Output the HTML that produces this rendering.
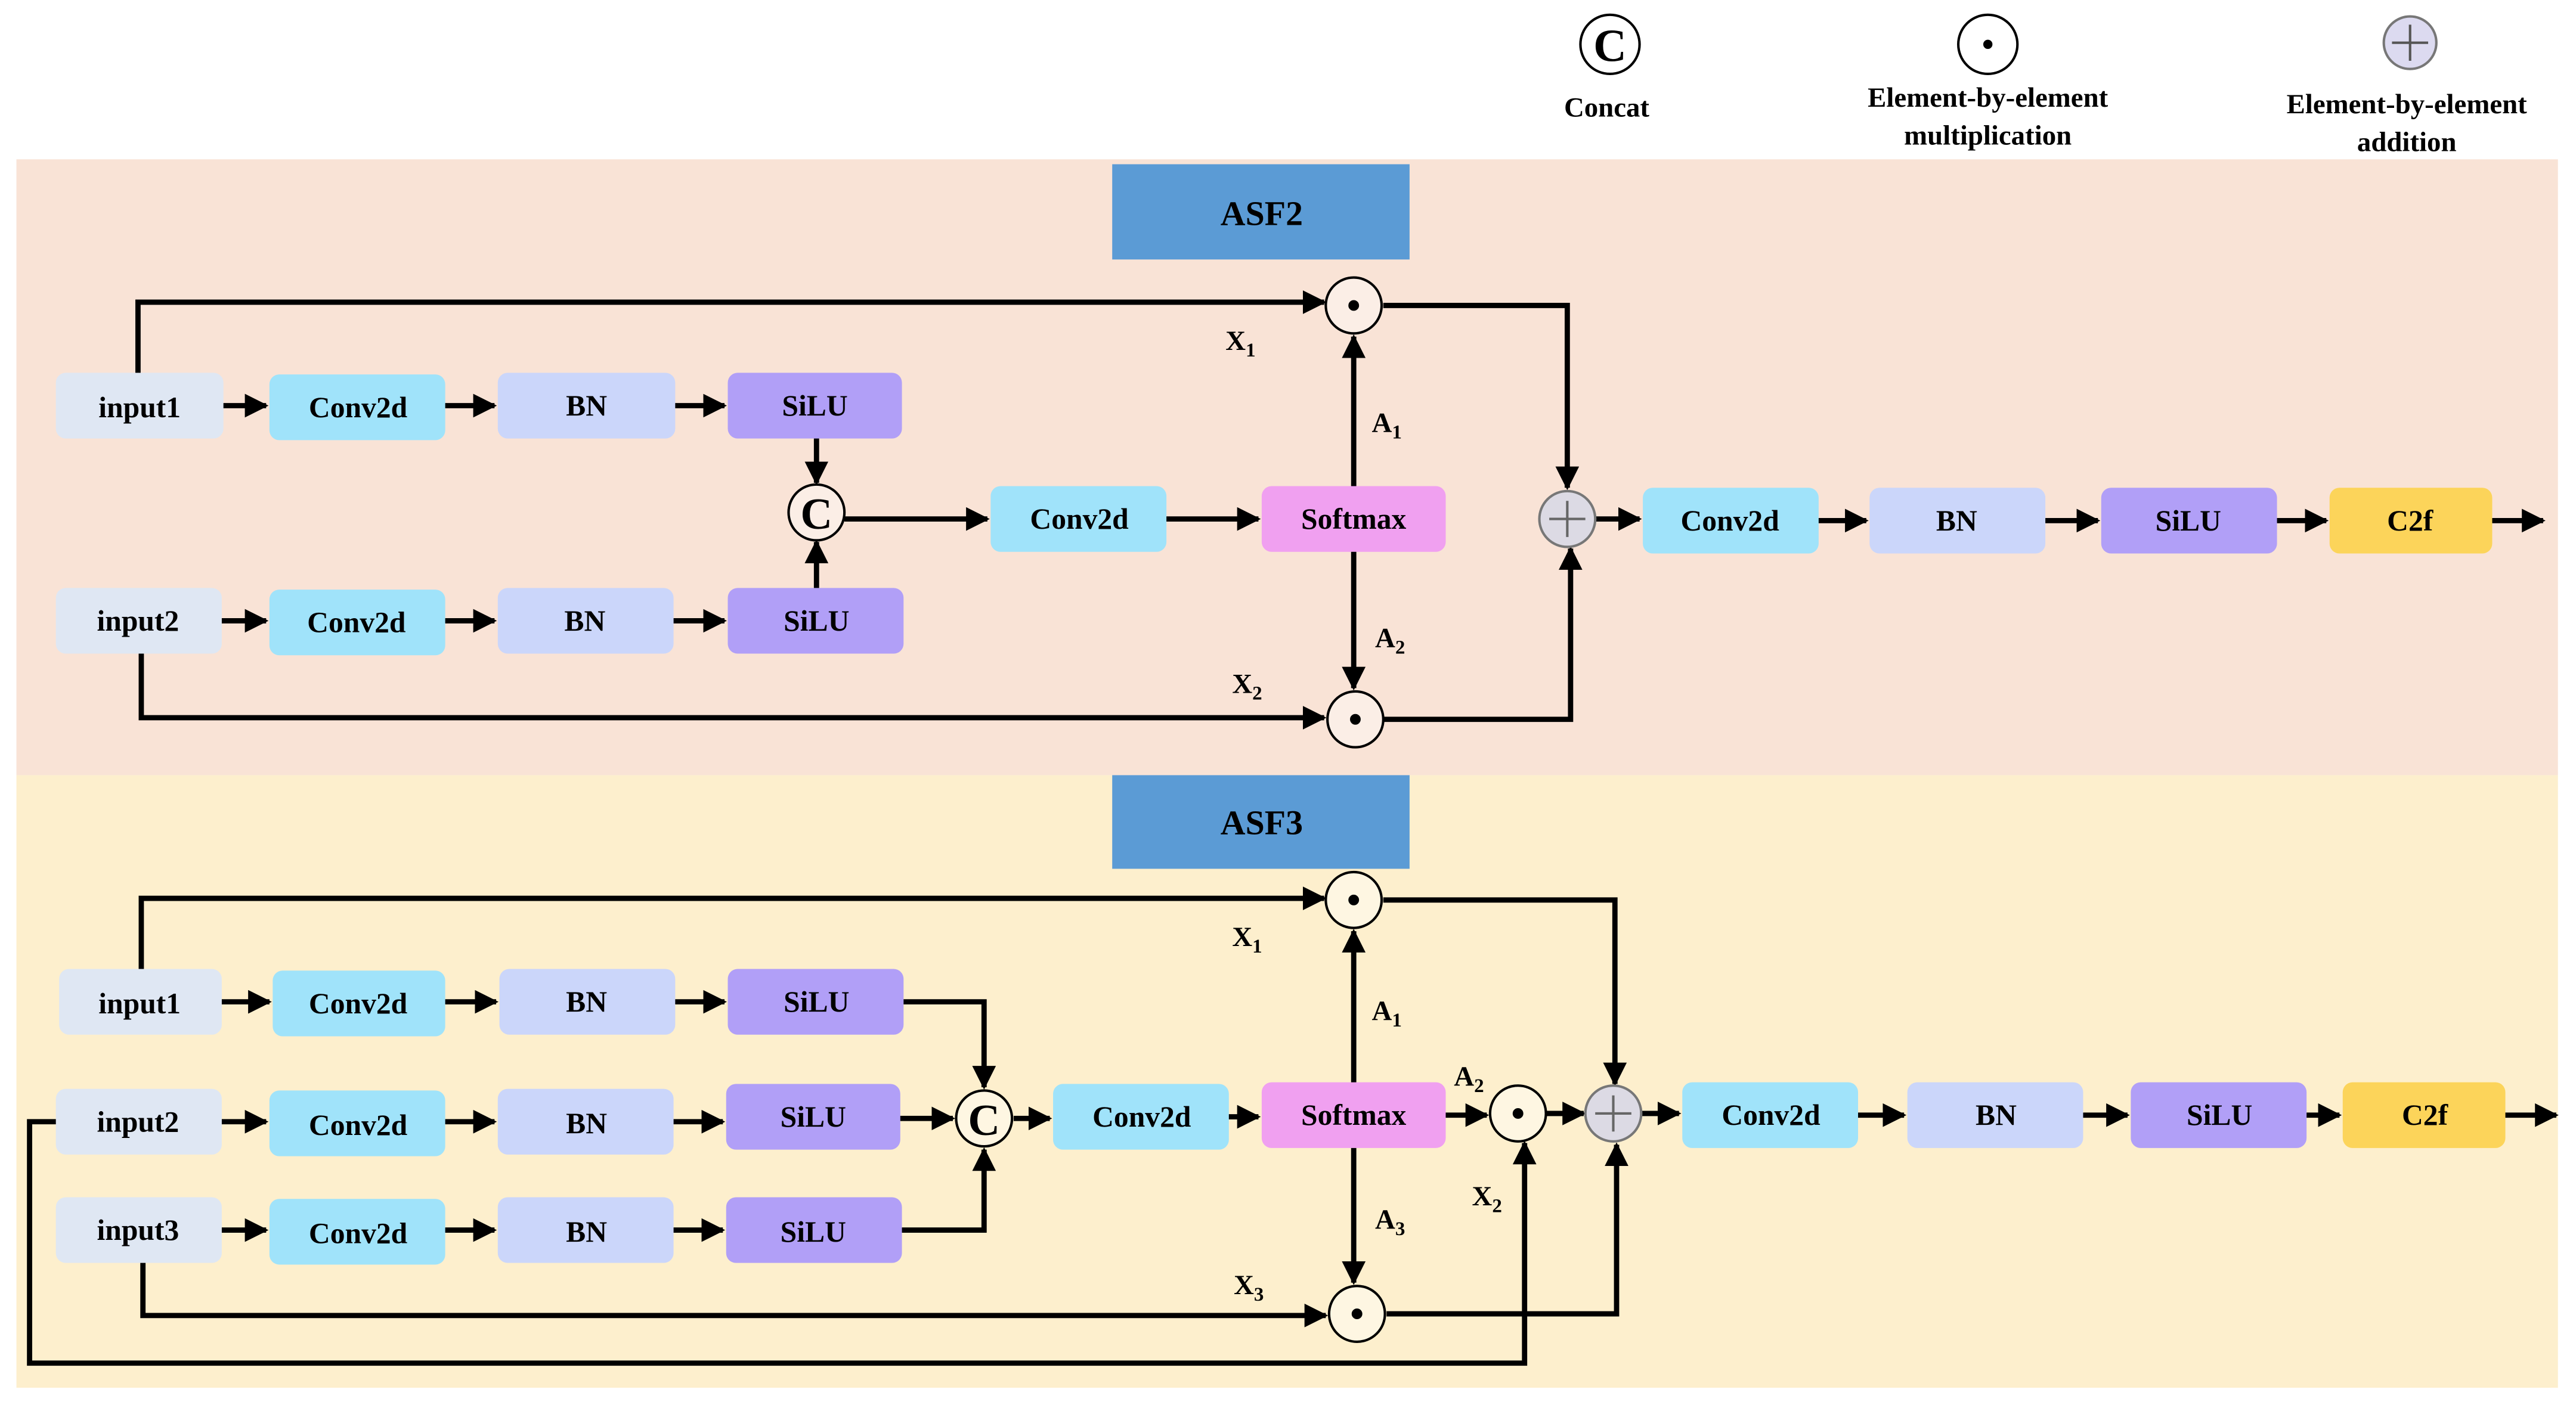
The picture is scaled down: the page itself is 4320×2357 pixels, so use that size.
<!DOCTYPE html>
<html><head><meta charset="utf-8"><style>
html,body{margin:0;padding:0;background:#fff;}
svg{display:block;}
svg text{font-family:"Liberation Serif","DejaVu Serif",serif;font-weight:bold;fill:#000;}
</style></head><body>
<svg width="4320" height="2357" viewBox="0 0 1568 855.5" preserveAspectRatio="none" xmlns="http://www.w3.org/2000/svg" font-family="Liberation Serif, serif" font-weight="bold">
<defs>
<marker id="ah" viewBox="0 0 10 10" refX="9" refY="5" markerWidth="4.5" markerHeight="4.5" orient="auto" markerUnits="strokeWidth">
<path d="M0,0 L10,5 L0,10 z" fill="#000"/></marker>
</defs>
<rect x="0" y="0" width="1568" height="856" fill="#fff"/>
<rect x="10" y="97" width="1547" height="375" fill="#f9e3d6"/>
<rect x="10" y="472" width="1547" height="373" fill="#fdefcd"/>

<g font-size="17" text-anchor="middle">
<circle cx="980" cy="27" r="18" fill="#fff" stroke="#000" stroke-width="1.5"/>
<text x="980" y="37" font-size="28">C</text>
<text x="978" y="71">Concat</text>
<circle cx="1210" cy="27" r="18" fill="#fff" stroke="#000" stroke-width="1.5"/>
<circle cx="1210" cy="27" r="2.8" fill="#000"/>
<text x="1210" y="65">Element-by-element</text>
<text x="1210" y="88">multiplication</text>
<circle cx="1467" cy="26" r="16" fill="#dcdaf0" stroke="#777" stroke-width="1.5"/>
<path d="M1456,26 H1478 M1467,15 V37" stroke="#555" stroke-width="1.5"/>
<text x="1465" y="69">Element-by-element</text>
<text x="1465" y="92">addition</text>
</g>

<rect x="677" y="100" width="181" height="58" fill="#5b9bd5"/>
<text x="768" y="137" font-size="21" text-anchor="middle">ASF2</text>
<rect x="677" y="472" width="181" height="57" fill="#5b9bd5"/>
<text x="768" y="508" font-size="21" text-anchor="middle">ASF3</text>

<g font-size="18" text-anchor="middle">
<rect x="34" y="227" width="102" height="40" rx="6" fill="#dfe7f3"/><text x="85" y="254">input1</text>
<rect x="164" y="228" width="107" height="40" rx="6" fill="#a0e3fa"/><text x="218" y="254">Conv2d</text>
<rect x="303" y="227" width="108" height="40" rx="6" fill="#cbd6fa"/><text x="357" y="253">BN</text>
<rect x="443" y="227" width="106" height="40" rx="6" fill="#b19ff7"/><text x="496" y="253">SiLU</text>
<rect x="34" y="358" width="101" height="40" rx="6" fill="#dfe7f3"/><text x="84" y="384">input2</text>
<rect x="164" y="359" width="107" height="40" rx="6" fill="#a0e3fa"/><text x="217" y="385">Conv2d</text>
<rect x="303" y="358" width="107" height="40" rx="6" fill="#cbd6fa"/><text x="356" y="384">BN</text>
<rect x="443" y="358" width="107" height="40" rx="6" fill="#b19ff7"/><text x="497" y="384">SiLU</text>
<rect x="603" y="296" width="107" height="40" rx="6" fill="#a0e3fa"/><text x="657" y="322">Conv2d</text>
<rect x="768" y="296" width="112" height="40" rx="6" fill="#f0a0f0"/><text x="824" y="322">Softmax</text>
<rect x="1000" y="297" width="107" height="40" rx="6" fill="#a0e3fa"/><text x="1053" y="323">Conv2d</text>
<rect x="1138" y="297" width="107" height="40" rx="6" fill="#cbd6fa"/><text x="1191" y="323">BN</text>
<rect x="1279" y="297" width="107" height="40" rx="6" fill="#b19ff7"/><text x="1332" y="323">SiLU</text>
<rect x="1418" y="297" width="99" height="40" rx="6" fill="#fcd45a"/><text x="1467" y="323">C2f</text>

<rect x="36" y="590" width="99" height="40" rx="6" fill="#dfe7f3"/><text x="85" y="617">input1</text>
<rect x="166" y="591" width="105" height="40" rx="6" fill="#a0e3fa"/><text x="218" y="617">Conv2d</text>
<rect x="304" y="590" width="107" height="40" rx="6" fill="#cbd6fa"/><text x="357" y="616">BN</text>
<rect x="443" y="590" width="107" height="40" rx="6" fill="#b19ff7"/><text x="497" y="616">SiLU</text>
<rect x="34" y="663" width="101" height="40" rx="6" fill="#dfe7f3"/><text x="84" y="689">input2</text>
<rect x="164" y="664" width="107" height="40" rx="6" fill="#a0e3fa"/><text x="218" y="691">Conv2d</text>
<rect x="303" y="663" width="107" height="40" rx="6" fill="#cbd6fa"/><text x="357" y="690">BN</text>
<rect x="442" y="660" width="106" height="40" rx="6" fill="#b19ff7"/><text x="495" y="686">SiLU</text>
<rect x="34" y="729" width="101" height="40" rx="6" fill="#dfe7f3"/><text x="84" y="755">input3</text>
<rect x="164" y="730" width="107" height="40" rx="6" fill="#a0e3fa"/><text x="218" y="757">Conv2d</text>
<rect x="303" y="729" width="107" height="40" rx="6" fill="#cbd6fa"/><text x="357" y="756">BN</text>
<rect x="442" y="729" width="107" height="40" rx="6" fill="#b19ff7"/><text x="495" y="756">SiLU</text>
<rect x="641" y="660" width="107" height="40" rx="6" fill="#a0e3fa"/><text x="695" y="686">Conv2d</text>
<rect x="768" y="659" width="112" height="40" rx="6" fill="#f0a0f0"/><text x="824" y="685">Softmax</text>
<rect x="1024" y="659" width="107" height="40" rx="6" fill="#a0e3fa"/><text x="1078" y="685">Conv2d</text>
<rect x="1161" y="659" width="107" height="40" rx="6" fill="#cbd6fa"/><text x="1215" y="685">BN</text>
<rect x="1297" y="659" width="107" height="40" rx="6" fill="#b19ff7"/><text x="1351" y="685">SiLU</text>
<rect x="1426" y="659" width="99" height="40" rx="6" fill="#fcd45a"/><text x="1476" y="685">C2f</text>
</g>

<g stroke="#000" stroke-width="3.2" fill="none" marker-end="url(#ah)">
<path d="M136,247 H162"/><path d="M271,247 H301"/><path d="M411,247 H441"/>
<path d="M135,378 H162"/><path d="M271,378 H301"/><path d="M410,378 H441"/>
<path d="M497,267 V294"/><path d="M497,358 V330"/>
<path d="M514,316 H601"/><path d="M710,316 H766"/>
<path d="M84,227 V184 H806"/>
<path d="M842,186 H954 V297"/>
<path d="M86,398 V437 H806"/>
<path d="M842,438 H956 V334"/>
<path d="M824,296 V205"/><path d="M824,336 V419"/>
<path d="M971,316 H998"/><path d="M1107,317 H1136"/><path d="M1245,317 H1277"/><path d="M1386,317 H1416"/><path d="M1517,317 H1548"/>
<path d="M135,610 H164"/><path d="M271,610 H302"/><path d="M411,610 H441"/>
<path d="M135,683 H162"/><path d="M271,683 H301"/><path d="M410,683 H440"/>
<path d="M135,749 H162"/><path d="M271,749 H301"/><path d="M410,749 H440"/>
<path d="M550,610 H599 V662"/>
<path d="M549,749 H599 V700"/>
<path d="M548,681 H580"/>
<path d="M617,681 H639"/><path d="M748,680 H766"/>
<path d="M86,590 V547 H806"/>
<path d="M842,548 H983 V660"/>
<path d="M824,659 V567"/><path d="M824,699 V781"/>
<path d="M880,679 H905"/>
<path d="M941,678 H964"/>
<path d="M999,678 H1022"/>
<path d="M87,769 V801 H807"/>
<path d="M844,800 H984 V697"/>
<path d="M34,683 H18 V830 H928 V696"/>
<path d="M1131,679 H1159"/><path d="M1268,679 H1295"/><path d="M1404,679 H1424"/><path d="M1525,679 H1556"/>
</g>

<g stroke="#000" stroke-width="1.5">
<circle cx="497" cy="312" r="17" fill="#fbeee6"/>
<circle cx="824" cy="186" r="17" fill="#fbeee6"/><circle cx="824" cy="186" r="2.5" fill="#000"/>
<circle cx="825" cy="438" r="17" fill="#fbeee6"/><circle cx="825" cy="438" r="2.5" fill="#000"/>
<circle cx="954" cy="316" r="17" fill="#dcdae4" stroke="#777"/>
<path d="M943,316 H965 M954,305 V327" stroke="#666"/>
<circle cx="599" cy="681" r="17" fill="#fef6e2"/>
<circle cx="824" cy="548" r="17" fill="#fef6e2"/><circle cx="824" cy="548" r="2.5" fill="#000"/>
<circle cx="826" cy="800" r="17" fill="#fef6e2"/><circle cx="826" cy="800" r="2.5" fill="#000"/>
<circle cx="924" cy="678" r="17" fill="#fef6e2"/><circle cx="924" cy="678" r="2.5" fill="#000"/>
<circle cx="982" cy="678" r="17" fill="#dcdae4" stroke="#777"/>
<path d="M971,678 H993 M982,667 V689" stroke="#666"/>
</g>
<g font-size="27" text-anchor="middle">
<text x="497" y="322">C</text><text x="599" y="691">C</text>
</g>

<g font-size="17">
<text x="746" y="213">X<tspan font-size="12" dy="4">1</tspan></text>
<text x="835" y="263">A<tspan font-size="12" dy="4">1</tspan></text>
<text x="837" y="394">A<tspan font-size="12" dy="4">2</tspan></text>
<text x="750" y="422">X<tspan font-size="12" dy="4">2</tspan></text>
<text x="750" y="576">X<tspan font-size="12" dy="4">1</tspan></text>
<text x="835" y="621">A<tspan font-size="12" dy="4">1</tspan></text>
<text x="885" y="661">A<tspan font-size="12" dy="4">2</tspan></text>
<text x="837" y="748">A<tspan font-size="12" dy="4">3</tspan></text>
<text x="896" y="734">X<tspan font-size="12" dy="4">2</tspan></text>
<text x="751" y="788">X<tspan font-size="12" dy="4">3</tspan></text>
</g>
</svg>
</body></html>
